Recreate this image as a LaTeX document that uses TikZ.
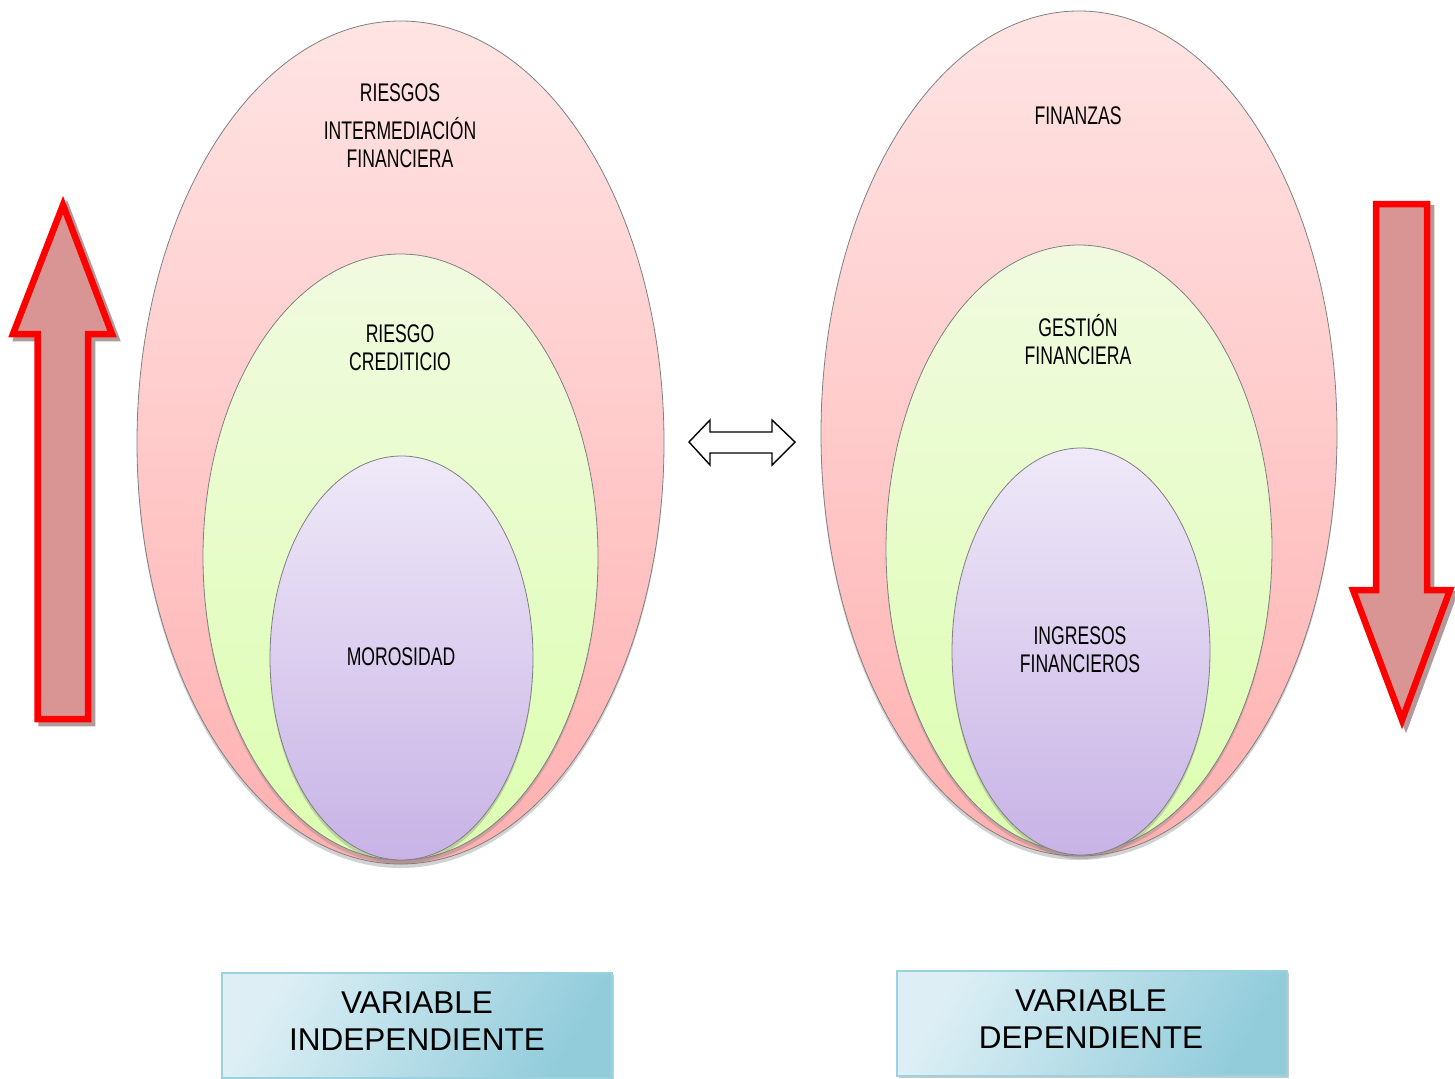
\documentclass[tikz,border=0pt]{standalone}
\usepackage{fontspec}
\setmainfont{Liberation Sans}
\newfontfamily\narrowfont[FakeStretch=0.69]{Liberation Sans}
\usetikzlibrary{shapes.geometric,shadows}
\definecolor{outT}{HTML}{FFE4E4}
\definecolor{outB}{HTML}{FFB0B0}
\definecolor{midT}{HTML}{F1FAE0}
\definecolor{midB}{HTML}{DCFFB0}
\definecolor{inT}{HTML}{EFE9F8}
\definecolor{inB}{HTML}{C8B3E6}
\definecolor{rim}{HTML}{808080}
\definecolor{arrfill}{HTML}{D99594}
\definecolor{arrshadow}{HTML}{B39A9A}
\definecolor{boxL}{HTML}{DDEFF5}
\definecolor{boxD}{HTML}{92CCDB}
\definecolor{boxrim}{HTML}{9CD1DE}
\tikzset{
  oval/.style={ellipse, draw=rim, line width=0.8pt, inner sep=0pt,
    drop shadow={opacity=0.35, shadow xshift=0pt, shadow yshift=-4pt}},
  outer/.style={oval, top color=outT, bottom color=outB},
  middle/.style={oval, top color=midT, bottom color=midB},
  inner/.style={oval, top color=inT, bottom color=inB},
  lbl/.style={font=\narrowfont\fontsize{25.5}{28}\selectfont, align=center, inner sep=0pt, text=black},
  varbox/.style={draw=boxrim, line width=1.5pt, shading=axis, left color=boxL, right color=boxD, shading angle=60,
    minimum width=390pt, minimum height=105pt, inner sep=0pt,
    drop shadow={opacity=0.4, shadow xshift=2pt, shadow yshift=-2pt}},
  vartext/.style={font=\fontsize{31.5}{37}\selectfont, align=center, inner sep=0pt, text=black},
  bigarrow/.style={draw=red, line width=6.5pt, fill=arrfill, line join=miter},
  arrowshadow/.style={draw=arrshadow, line width=6.5pt, fill=arrshadow, line join=miter},
  dblarrow/.style={draw=black, line width=1.4pt, fill=white, line join=miter}
}
\begin{document}
\begin{tikzpicture}[x=1pt, y=-1pt]
\useasboundingbox[fill=white] (0,0) rectangle (1455,1078);

% left ellipses
\node[outer, minimum width=527pt, minimum height=843pt] (lo) at (400.5,442.5) {};
\node[middle, minimum width=395pt, minimum height=606pt] (lm) at (400.5,557) {};
\node[inner, minimum width=263pt, minimum height=404pt] (li) at (401.5,658) {};
\node[lbl] (t1) at (400,93) {RIESGOS};
\node[lbl] (t2) at (400,143) {INTERMEDIACIÓN\\FINANCIERA};
\node[lbl] (t3) at (400,348) {RIESGO\\CREDITICIO};
\node[lbl] (t4) at (401,657) {MOROSIDAD};

% right ellipses
\node[outer, minimum width=516pt, minimum height=845pt] (ro) at (1079,433.5) {};
\node[middle, minimum width=386pt, minimum height=607pt] (rm) at (1079,548.5) {};
\node[inner, minimum width=258pt, minimum height=407pt] (ri) at (1081,651.5) {};
\node[lbl] (u1) at (1078,116) {FINANZAS};
\node[lbl] (u2) at (1078,340) {GESTIÓN\\FINANCIERA};
\node[lbl] (u3) at (1080,650) {INGRESOS\\FINANCIEROS};

% double arrow
\draw[dblarrow] (689,442) -- (710,420) -- (710,432) -- (772,432) -- (772,420) -- (795,442)
  -- (772,465) -- (772,453) -- (710,453) -- (710,465) -- cycle;

% left up arrow
\begin{scope}[shift={(4,4)}]
\draw[arrowshadow] (63,205) -- (112,334) -- (88,334) -- (88,719) -- (37.5,719) -- (37.5,334) -- (13,334) -- cycle;
\end{scope}
\draw[bigarrow] (63,205) -- (112,334) -- (88,334) -- (88,719) -- (37.5,719) -- (37.5,334) -- (13,334) -- cycle;

% right down arrow
\begin{scope}[shift={(4,4)}]
\draw[arrowshadow] (1376,204) -- (1427,204) -- (1427,590) -- (1450,590) -- (1402,720) -- (1353,590) -- (1376,590) -- cycle;
\end{scope}
\draw[bigarrow] (1376,204) -- (1427,204) -- (1427,590) -- (1450,590) -- (1402,720) -- (1353,590) -- (1376,590) -- cycle;

% bottom boxes
\node[varbox] (vi) at (417,1025.5) {};
\node[vartext] (vit) at (417,1021) {VARIABLE\\INDEPENDIENTE};
\node[varbox] (vd) at (1092,1023.5) {};
\node[vartext] (vdt) at (1091,1019.5) {VARIABLE\\DEPENDIENTE};
\end{tikzpicture}
\end{document}
